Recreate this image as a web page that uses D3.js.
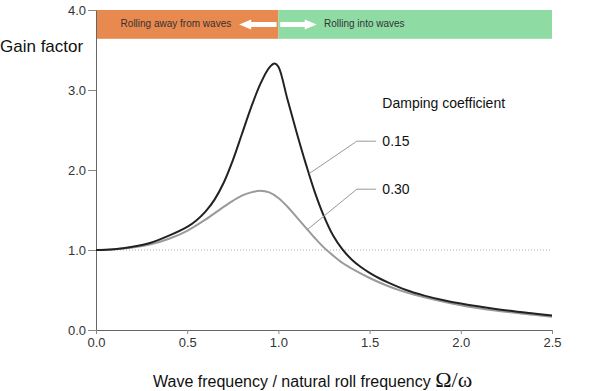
<!DOCTYPE html>
<html><head><meta charset="utf-8">
<script src="https://cdn.jsdelivr.net/npm/d3@7"></script>
<style>body{margin:0;background:#fff}svg{display:block;font-family:Arial,"Liberation Sans",sans-serif}</style>
</head><body><svg id="c" width="590" height="391"></svg>
<script>
const xTicks = [0.0, 0.5, 1.0, 1.5, 2.0, 2.5];
const yTicks = [0.0, 1.0, 2.0, 3.0, 4.0];
const freq015 = [0,0.1,0.2,0.3,0.4,0.5,0.55,0.6,0.65,0.7,0.75,0.8,0.85,0.9,0.95,0.98,1.0,1.05,1.1,1.15,1.2,1.25,1.3,1.35,1.4,1.45,1.5,1.55,1.6,1.7,1.8,1.9,2.0,2.2,2.4,2.5];
const gain015 = [1.0,1.01,1.04,1.09,1.18,1.29,1.37,1.48,1.63,1.84,2.12,2.45,2.78,3.07,3.28,3.33,3.29,2.88,2.47,2.08,1.72,1.42,1.18,1.01,0.885,0.79,0.715,0.65,0.595,0.50,0.43,0.375,0.33,0.26,0.205,0.18];
const freq030 = [0,0.1,0.2,0.3,0.4,0.5,0.6,0.7,0.75,0.8,0.85,0.9,0.95,1.0,1.05,1.1,1.15,1.2,1.25,1.3,1.35,1.4,1.5,1.6,1.7,1.8,2.0,2.2,2.4,2.5];
const gain030 = [1.0,1.01,1.03,1.07,1.14,1.24,1.38,1.54,1.615,1.68,1.72,1.74,1.72,1.65,1.54,1.41,1.28,1.15,1.03,0.93,0.84,0.77,0.65,0.55,0.47,0.41,0.31,0.24,0.19,0.165];
const dampingLabels = ["0.15", "0.30"];
const bandLabels = ["Rolling away from waves", "Rolling into waves"];

const svg = d3.select("#c");
const x = d3.scaleLinear().domain([0, 2.5]).range([96, 552]);
const y = d3.scaleLinear().domain([0, 4]).range([330, 10]);

// bands
const bands = [{x0:0,x1:1,c:"#E8894F"},{x0:1,x1:2.5,c:"#8EDBA4"}];
svg.selectAll("rect.band").data(bands).join("rect").attr("class","band")
  .attr("x",d=>x(d.x0)).attr("width",d=>x(d.x1)-x(d.x0))
  .attr("y",y(4)).attr("height",y(3.64)-y(4)).attr("fill",d=>d.c);
svg.append("text").attr("x",x(0.135)).attr("y",y(3.785)).attr("font-size",10).attr("fill","#333").text(bandLabels[0]);
svg.append("text").attr("x",x(1.25)).attr("y",y(3.785)).attr("font-size",10).attr("fill","#333").text(bandLabels[1]);
// arrows
const ay = y(3.82);
const arrow = (xs, xe) => {
  const dir = Math.sign(xe - xs), hl = 12, hw = 5, sw = 2.5;
  const xb = xe - dir*hl;
  return `M${xs},${ay-sw}L${xb},${ay-sw}L${xb},${ay-hw}L${xe},${ay}L${xb},${ay+hw}L${xb},${ay+sw}L${xs},${ay+sw}Z`;
};
svg.append("path").attr("d",arrow(x(0.99),x(0.785))).attr("fill","#fff");
svg.append("path").attr("d",arrow(x(1.01),x(1.21))).attr("fill","#fff");

// reference line at 1.0
svg.append("line").attr("x1",x(0)).attr("x2",x(2.5)).attr("y1",y(1)).attr("y2",y(1))
  .attr("stroke","#aaa").attr("stroke-width",1).attr("stroke-dasharray","1,2");

// axes
const ya = svg.append("g").attr("transform",`translate(${x(0)},0)`)
  .call(d3.axisLeft(y).tickValues(yTicks).tickFormat(d3.format(".1f")).tickSize(8).tickSizeOuter(0).tickPadding(2));
const xa = svg.append("g").attr("transform",`translate(0,${y(0)})`)
  .call(d3.axisBottom(x).tickValues(xTicks).tickFormat(d3.format(".1f")).tickSize(4).tickSizeOuter(0).tickPadding(4));
[ya, xa].forEach(g => {
  g.select(".domain").attr("stroke","#666");
  g.selectAll(".tick line").attr("stroke","#888");
  g.selectAll(".tick text").attr("font-size",13).attr("fill","#333").attr("font-family","Arial, 'Liberation Sans', sans-serif");
});

// curves
const line = d3.line().x(d=>x(d[0])).y(d=>y(d[1])).curve(d3.curveCatmullRom.alpha(0.5));
svg.append("path").datum(d3.zip(freq030, gain030)).attr("d",line)
  .attr("fill","none").attr("stroke","#9a9a9a").attr("stroke-width",2);
svg.append("path").datum(d3.zip(freq015, gain015)).attr("d",line)
  .attr("fill","none").attr("stroke","#222").attr("stroke-width",2);

// annotations
svg.append("text").attr("x",x(1.57)).attr("y",y(2.78)).attr("font-size",14).attr("fill","#111").text("Damping coefficient");
const ann = [
  {lab:dampingLabels[0], px:1.172, py:1.96, ly:2.36},
  {lab:dampingLabels[1], px:1.156, py:1.25, ly:1.76}
];
ann.forEach(a => {
  svg.append("polyline").attr("points",`${x(a.px)},${y(a.py)} ${x(1.43)},${y(a.ly)} ${x(1.535)},${y(a.ly)}`)
    .attr("fill","none").attr("stroke","#999").attr("stroke-width",1);
  svg.append("text").attr("x",x(1.57)).attr("y",y(a.ly)+5).attr("font-size",14).attr("fill","#111").text(a.lab);
});

// titles
svg.append("text").attr("x",0).attr("y",52).attr("font-size",17).attr("fill","#111").text("Gain factor");
const t = svg.append("text").attr("x",153).attr("y",387).attr("font-size",16).attr("fill","#111");
t.append("tspan").text("Wave frequency / natural roll frequency ");
t.append("tspan").attr("font-family","'Liberation Serif','DejaVu Serif',serif").attr("font-size",22).text("Ω/ω");
</script></body></html>
